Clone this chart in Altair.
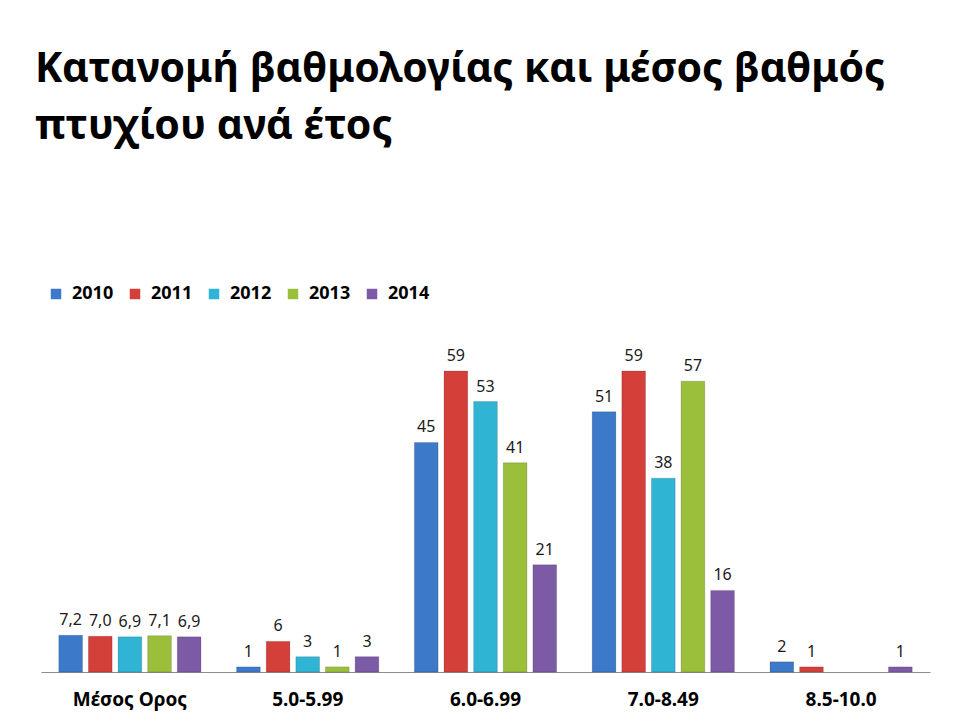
import altair as alt
import pandas as pd

categories = ["Μέσος Ορος", "5.0-5.99", "6.0-6.99", "7.0-8.49", "8.5-10.0"]
years = ["2010", "2011", "2012", "2013", "2014"]
colors = ["#3c7ac9", "#d43f3a", "#2fb4d4", "#9cbf3b", "#7d5aa6"]

v2010 = [7.2, 1, 45, 51, 2]
v2011 = [7.0, 6, 59, 59, 1]
v2012 = [6.9, 3, 53, 38, None]
v2013 = [7.1, 1, 41, 57, None]
v2014 = [6.9, 3, 21, 16, 1]

series = dict(zip(years, [v2010, v2011, v2012, v2013, v2014]))
rows = []
for y, vals in series.items():
    for c, v in zip(categories, vals):
        if v is None:
            continue
        lab = f"{v:.1f}".replace(".", ",") if c == "Μέσος Ορος" else f"{int(v)}"
        rows.append({"cat": c, "year": y, "value": v, "label": lab})
df = pd.DataFrame(rows)

FONT = "Noto Sans"

x = alt.X("cat:N", sort=categories, title=None,
          scale=alt.Scale(paddingInner=0.2, paddingOuter=0.1),
          axis=alt.Axis(labelAngle=0, ticks=False, domainColor="#8c8c8c",
                        labelFont=FONT, labelFontSize=19, labelFontWeight="bold",
                        labelColor="#000000", labelPadding=18))
xo = alt.XOffset("year:N", sort=years, scale=alt.Scale(paddingInner=0.2, paddingOuter=0))
y = alt.Y("value:Q", axis=None, scale=alt.Scale(domain=[0, 69], nice=False))

bars = alt.Chart(df).mark_bar(stroke="#00000030", strokeWidth=0.8).encode(
    x=x, xOffset=xo, y=y,
    color=alt.Color("year:N", sort=years,
                    scale=alt.Scale(domain=years, range=colors),
                    legend=alt.Legend(title=None, orient="none", direction="horizontal",
                                      legendX=6, legendY=-35, symbolType="square",
                                      symbolSize=110, symbolStrokeWidth=0,
                                      labelFont=FONT, labelFontSize=18,
                                      labelFontWeight="bold", labelColor="#000000",
                                      columnPadding=12, labelOffset=7)),
)
texts = alt.Chart(df).mark_text(dy=-15, font=FONT, fontSize=16, color="#1a1a1a").encode(
    x=x, xOffset=xo, y=y, text="label:N"
)

chart = alt.layer(bars, texts).properties(
    width=889, height=352,
    autosize=alt.AutoSizeParams(type="none"),
    padding={"left": 33, "top": 312, "right": 20, "bottom": 40},
    title=alt.TitleParams(
        text=["Κατανομή βαθμολογίας και μέσος βαθμός", "πτυχίου ανά έτος"],
        anchor="start", font=FONT, fontSize=41, fontWeight="bold",
        color="#000000", lineHeight=57, offset=137, dx=-6,
    ),
).configure(background="white", view=alt.ViewConfig(stroke=None, strokeWidth=0))

chart.save("out.html", embed_options={"renderer": "svg", "actions": False})
